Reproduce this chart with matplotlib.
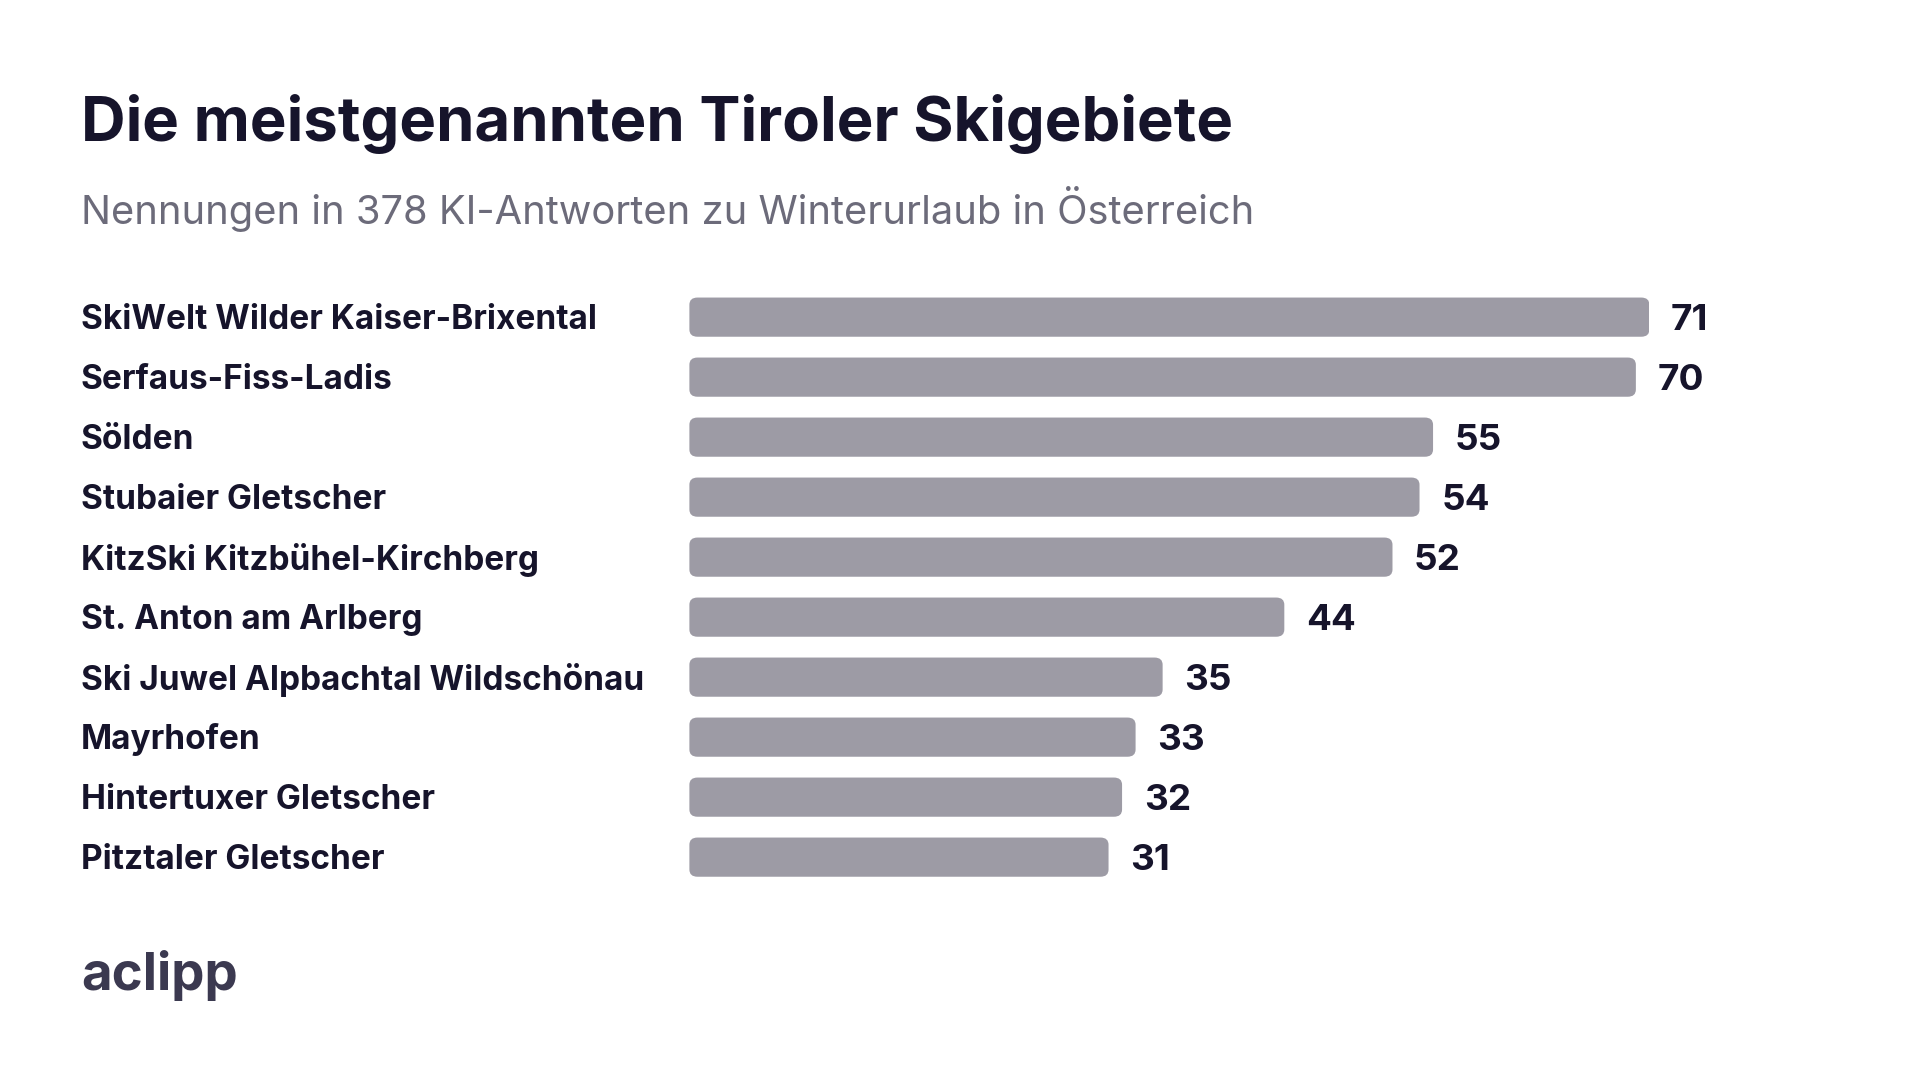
import matplotlib
matplotlib.use("Agg")
import matplotlib.pyplot as plt
from matplotlib.patches import FancyBboxPatch

plt.rcParams['font.family'] = ['Inter', 'DejaVu Sans']

regions = ["SkiWelt Wilder Kaiser-Brixental", "Serfaus-Fiss-Ladis", "Sölden",
           "Stubaier Gletscher", "KitzSki Kitzbühel-Kirchberg", "St. Anton am Arlberg",
           "Ski Juwel Alpbachtal Wildschönau", "Mayrhofen", "Hintertuxer Gletscher",
           "Pitztaler Gletscher"]
counts = [71, 70, 55, 54, 52, 44, 35, 33, 32, 31]

DARK = "#16142b"
BAR = "#9d9ba5"

fig = plt.figure(figsize=(19.2, 10.8), dpi=100)
fig.patch.set_facecolor("white")

W, H = 1568, 882
ax = fig.add_axes([563 / W, 1 - 724.5 / H, (1347 - 563) / W, 490 / H])
ax.set_xlim(0, 71)
ax.set_ylim(9.5, -0.5)
ax.axis("off")

bh = 32 / 49
for i, (name, v) in enumerate(zip(regions, counts)):
    p = FancyBboxPatch((0, i - bh / 2), v, bh,
                       boxstyle="round,pad=0,rounding_size=0.6",
                       mutation_aspect=0.2, fc=BAR, ec="none")
    ax.add_patch(p)
    ax.text(v + 1.6, i + 0.05, str(v), va="center", ha="left", fontsize=26.5,
            fontweight="bold", color=DARK)
    fig.text(66 / W, 1 - (261 + 49 * i) / H, name, va="center", ha="left",
             fontsize=24, fontweight="bold", color=DARK)

fig.text(66 / W, 1 - 101 / H, "Die meistgenannten Tiroler Skigebiete",
         fontsize=44.4, fontweight="bold", color=DARK, va="center", ha="left")
fig.text(66 / W, 1 - 171 / H, "Nennungen in 378 KI-Antworten zu Winterurlaub in Österreich",
         fontsize=28.7, color="#6c6b7a", va="center", ha="left")
fig.text(66 / W, 1 - 797 / H, "aclipp", fontsize=38, fontweight="bold",
         color="#3b3950", va="center", ha="left")

fig.savefig("out.png", dpi=100, facecolor="white")
